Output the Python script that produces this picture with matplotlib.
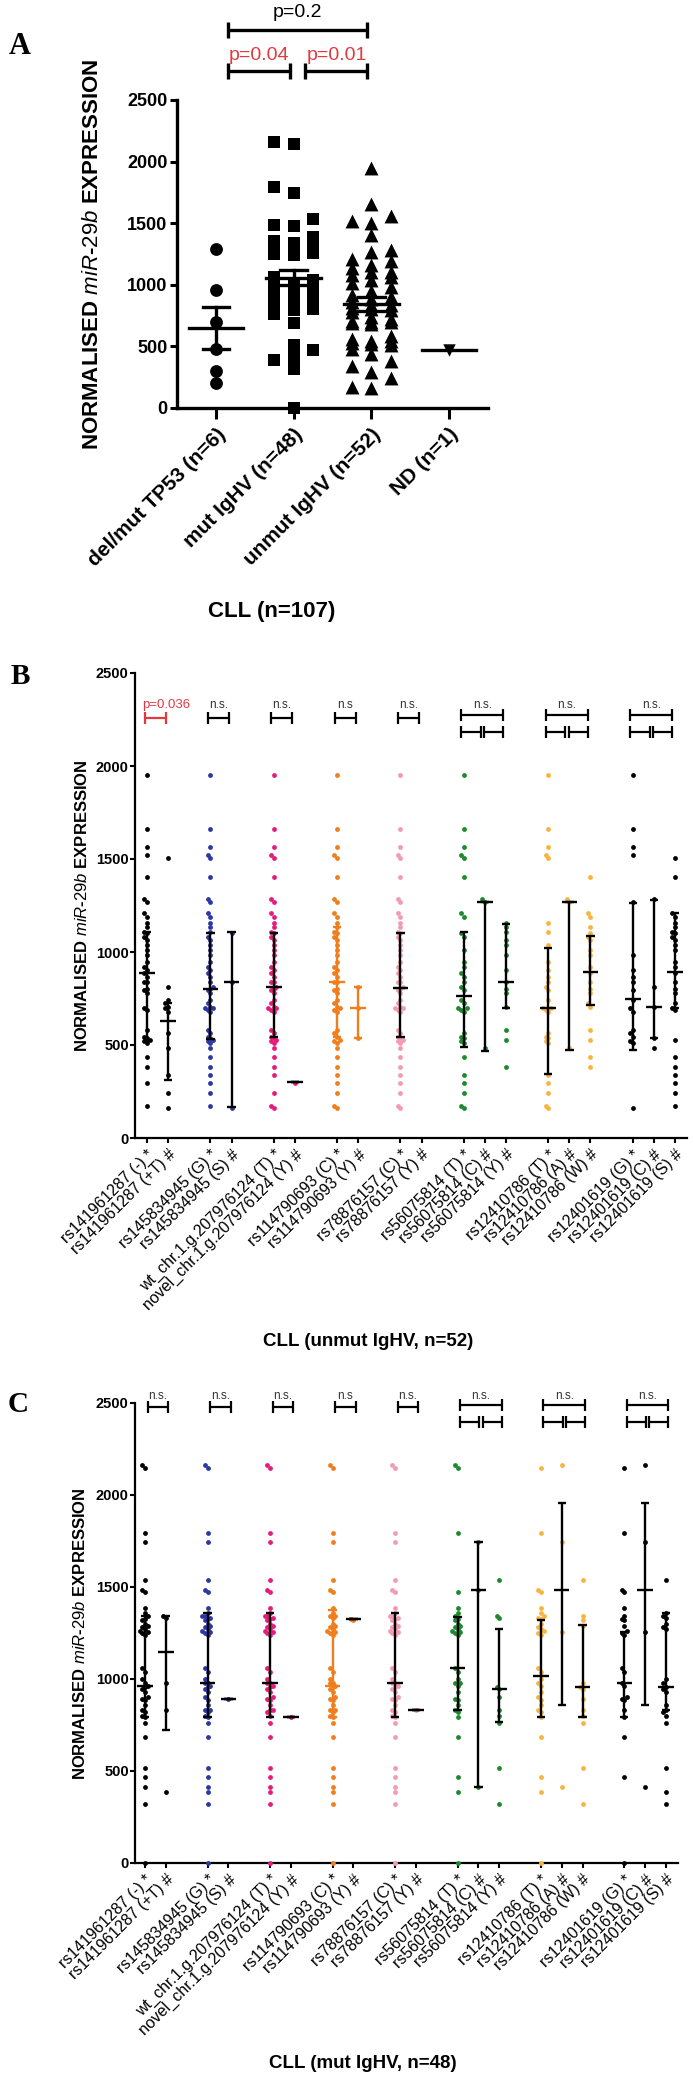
import numpy as np
import matplotlib.pyplot as plt

plt.rcParams['font.family'] = ['Liberation Sans', 'DejaVu Sans']
plt.rcParams['mathtext.fontset'] = 'custom'
plt.rcParams['mathtext.it'] = 'Liberation Sans:italic'
plt.rcParams['mathtext.rm'] = 'Liberation Sans'

# ---------------- panel A data ----------------
a_labels = ['del/mut TP53 (n=6)', 'mut IgHV (n=48)', 'unmut IgHV (n=52)', 'ND (n=1)']
tp53_vals = [1290, 960, 700, 480, 300, 200]
mut_vals = [2163, 2145, 1792, 1746, 1538, 1484, 1475, 1384, 1357, 1343,
            1340, 1330, 1325, 1320, 1300, 1290, 1284, 1270, 1260, 1257,
            1250, 1240, 1060, 1040, 1000, 980, 977, 961, 958, 944,
            930, 900, 890, 886, 860, 832, 830, 820, 800, 795,
            759, 687, 514, 469, 415, 388, 319, 0]
unmut_vals = [1951, 1659, 1562, 1521, 1503, 1405, 1283, 1270, 1208, 1190,
              1158, 1136, 1106, 1100, 1082, 1064, 1037, 1011, 984, 948,
              921, 903, 885, 864, 840, 840, 814, 800, 796, 778,
              742, 724, 706, 700, 697, 690, 679, 581, 563, 545,
              540, 527, 520, 509, 482, 437, 383, 339, 294, 240,
              172, 160]
nd_vals = [470]
a_mean = [650, 1058, 845, 470]
a_sem = [170, 62, 60, 0]
a_pairs = [(0, 1), (1, 2), (0, 2)]
a_ptext = ['p=0.04', 'p=0.01', 'p=0.2']

# ---------------- panels B / C data ----------------
snp_labels = ['rs141961287 (-) *', 'rs141961287 (+T) #',
              'rs145834945 (G) *', 'rs145834945 (S) #',
              'wt_chr.1.g.207976124 (T) *', 'novel_chr.1.g.207976124 (Y) #',
              'rs114790693 (C) *', 'rs114790693 (Y) #',
              'rs78876157 (C) *', 'rs78876157 (Y) #',
              'rs56075814 (T) *', 'rs56075814 (C) #', 'rs56075814 (Y) #',
              'rs12410786 (T) *', 'rs12410786 (A) #', 'rs12410786 (W) #',
              'rs12401619 (G) *', 'rs12401619 (C) #', 'rs12401619 (S) #']
group_sizes = [2, 2, 2, 2, 2, 3, 3, 3]
group_colors = ['black', '#2b37a3', '#e61c7d', '#f07e1c', '#f39bb0',
                '#1b8a2c', '#f9b43f', 'black']

# values of the minority genotype columns (the first column of a SNP = rest of the cohort)
b_minor = [
    [[1503, 814, 742, 724, 706, 697, 679, 563, 482, 339, 240, 160]],
    [[1100, 840, 160]],
    [[294]],
    [[814, 697, 540]],
    [[]],
    [[1283, 1270, 482],
     [1158, 1136, 1106, 1064, 1037, 984, 903, 840, 800, 778, 706, 581, 527, 383]],
    [[1283, 1270, 482],
     [1405, 1208, 1190, 1136, 1100, 1082, 1064, 1011, 984, 921, 885, 840, 800,
      778, 724, 706, 581, 527, 437, 383]],
    [[1283, 814, 706, 540, 482],
     [1503, 1405, 1208, 1190, 1158, 1136, 1106, 1100, 1082, 1064, 1037, 1011,
      948, 921, 885, 840, 800, 778, 724, 700, 690, 527, 437, 383, 339, 294, 240, 172]],
]
b_med = [885, 630, 800, 840, 810, 303, 840, 697, 805, np.nan,
         764, 1270, 840, 697, 1270, 890, 745, 706, 890]
b_q1 = [520, 312, 530, 166, 545, 303, 545, 536, 545, np.nan,
        491, 470, 697, 342, 473, 715, 473, 536, 697]
b_q3 = [1110, 727, 1100, 1105, 1100, 303, 1136, 814, 1100, np.nan,
        1105, 1270, 1148, 1024, 1270, 1086, 1266, 1279, 1208]
b_ptext = ['p=0.036', 'n.s.', 'n.s.', 'n.s', 'n.s.', 'n.s.', 'n.s.', 'n.s.']

c_minor = [
    [[1343, 1330, 977, 830, 388]],
    [[890]],
    [[795]],
    [[1325, 1320]],
    [[830]],
    [[1746, 1484, 415],
     [1538, 1340, 1330, 958, 944, 900, 832, 800, 759, 514, 319]],
    [[2163, 1746, 1257, 415],
     [1538, 1343, 1320, 1290, 980, 958, 944, 890, 830, 800, 759, 514, 319]],
    [[2163, 1746, 1257, 415],
     [1538, 1357, 1340, 1330, 1300, 1284, 1270, 1000, 977, 958, 944, 930, 860,
      832, 820, 800, 759, 514, 388, 319]],
]
c_med = [961, 1149, 977, 890, 977, 791, 961, 1325, 977, 829,
         1058, 1484, 944, 1018, 1484, 958, 980, 1484, 958]
c_q1 = [795, 723, 795, 890, 795, 791, 795, 1325, 795, 829,
        832, 415, 768, 795, 859, 795, 795, 859, 832]
c_q3 = [1343, 1343, 1360, 890, 1360, 791, 1375, 1325, 1360, 829,
        1339, 1746, 1270, 1321, 1955, 1294, 1257, 1955, 1357]
c_ptext = ['n.s.', 'n.s.', 'n.s.', 'n.s', 'n.s.', 'n.s.', 'n.s.', 'n.s.']

W, H = 695, 2079
RED = '#e03a40'


def remove_closest(base, taken):
    rest = list(base)
    for v in taken:
        i = int(np.argmin(np.abs(np.array(rest) - v)))
        rest.pop(i)
    return rest


def swarm(values, step, gap, nmax):
    values = np.asarray(values, dtype=float)
    cands = [0.0]
    for k in range(1, nmax + 1):
        cands += [-k * step, k * step]
    offs = np.zeros(len(values))
    placed = []
    for i in np.argsort(values):
        v = values[i]
        best, bestd = 0.0, -1
        for c in cands:
            d = min([abs(v - pv) for po, pv in placed if po == c], default=np.inf)
            if d >= gap:
                best = c
                break
            if d > bestd:
                best, bestd = c, d
        offs[i] = best
        placed.append((best, v))
    return offs


def bracket(ax, x0, x1, y, t, color, lw):
    kw = dict(color=color, lw=lw, clip_on=False, solid_capstyle='butt')
    ax.plot([x0, x1], [y, y], **kw)
    ax.plot([x0, x0], [y - t, y + t], **kw)
    ax.plot([x1, x1], [y - t, y + t], **kw)


def box(l, t, r, b):
    return [l / W, 1 - b / H, (r - l) / W, (b - t) / H]


fig = plt.figure(figsize=(W / 100, H / 100), dpi=100)

# ================= panel A =================
axA = fig.add_axes(box(177, 100, 488, 408))
a_vals = [tp53_vals, mut_vals, unmut_vals, nd_vals]
a_markers = ['o', 's', '^', 'v']
a_sizes = [85, 80, 100, 80]
for i, vals in enumerate(a_vals):
    off = swarm(vals, 0.25, 95, 1)
    axA.scatter(i + off, vals, marker=a_markers[i], s=a_sizes[i], color='black',
                linewidths=0, zorder=3, clip_on=False)
    axA.plot([i - 0.35, i + 0.35], [a_mean[i]] * 2, color='black', lw=2.4, zorder=4)
    if a_sem[i] > 0:
        lo, hi = a_mean[i] - a_sem[i], a_mean[i] + a_sem[i]
        axA.plot([i, i], [lo, hi], color='black', lw=2.4, zorder=4)
        axA.plot([i - 0.17, i + 0.17], [lo, lo], color='black', lw=2.4, zorder=4)
        axA.plot([i - 0.17, i + 0.17], [hi, hi], color='black', lw=2.4, zorder=4)

axA.set_xlim(-0.5, 3.5)
axA.set_ylim(0, 2500)
axA.set_yticks([0, 500, 1000, 1500, 2000, 2500])
axA.set_xticks(range(4))
axA.set_xticklabels(a_labels, rotation=45, ha='right', rotation_mode='anchor',
                    fontsize=15, fontweight='bold')
for lab in axA.get_yticklabels():
    lab.set_fontweight('bold')
axA.tick_params(axis='y', labelsize=13, length=5, width=2.2, pad=2)
axA.tick_params(axis='x', length=8, width=2.2, pad=4)
for s in ['top', 'right']:
    axA.spines[s].set_visible(False)
for s in ['left', 'bottom']:
    axA.spines[s].set_linewidth(2.4)

for k, (i, j) in enumerate(a_pairs):
    top = (j - i) > 1
    y = 3068 if top else 2735
    bracket(axA, i + 0.15, j - 0.05, y, 65, 'black', 2.4)
    axA.text((i + j + 0.1) / 2, y + (140 if top else 130), a_ptext[k],
             color='black' if top else RED, fontsize=14, ha='center', va='center')

fig.text(20 / W, 1 - 47 / H, 'A', family='Liberation Serif', fontweight='bold',
         fontsize=22, ha='center', va='center')
fig.text(93 / W, 1 - 254 / H, r'NORMALISED $\it{miR}$-$\it{29b}$ EXPRESSION',
         rotation=90, fontsize=16, fontweight='bold', ha='center', va='center')
fig.text(272 / W, 1 - 612 / H, 'CLL (n=107)', fontsize=16, fontweight='bold',
         ha='center', va='center')


# ================= panels B and C =================
def snp_panel(ax, base, minor, med, q1, q3, ptext, pcol0, off, lev, bar_orange):
    p = 0
    slots = []
    for g in group_sizes:
        slots.append(list(range(p, p + g)))
        p += g + 1
    flat = [s for grp in slots for s in grp]
    col_idx = 0
    for g, grp in enumerate(slots):
        taken = [v for m in minor[g] for v in m]
        cols = [remove_closest(base, taken)] + minor[g]
        for k, x in enumerate(grp):
            vals = cols[k]
            if len(vals):
                o = swarm(vals, 0.13, 22, 2)
                ax.scatter(x + o, vals, s=12, color=group_colors[g], linewidths=0,
                           zorder=3, clip_on=False)
            if not np.isnan(med[col_idx]):
                bc = group_colors[g] if col_idx in bar_orange else 'black'
                kw = dict(color=bc, lw=1.7, zorder=4, solid_capstyle='butt')
                ax.plot([x, x], [q1[col_idx], q3[col_idx]], **kw)
                ax.plot([x - 0.2, x + 0.2], [q1[col_idx]] * 2, **kw)
                ax.plot([x - 0.2, x + 0.2], [q3[col_idx]] * 2, **kw)
                ax.plot([x - 0.37, x + 0.37], [med[col_idx]] * 2, **kw)
            col_idx += 1
        # significance brackets
        color = pcol0 if g == 0 else 'black'
        lo, hi = grp[0] + off, grp[-1] + off
        if len(grp) == 2:
            bracket(ax, lo, hi, lev[0], 33, color, 1.6)
        else:
            bracket(ax, lo, hi, lev[1], 33, color, 1.6)
            bracket(ax, lo, grp[1] + off - 0.08, lev[2], 33, color, 1.6)
            bracket(ax, grp[1] + off + 0.08, hi, lev[2], 33, color, 1.6)
        if ptext[g].startswith('p'):
            ax.text(lo - 0.12, lev[3], ptext[g], color=RED, fontsize=9.5,
                    ha='left', va='center', clip_on=False)
        else:
            ax.text((lo + hi) / 2, lev[3], ptext[g], color='#333333', fontsize=8.5,
                    ha='center', va='center', clip_on=False)

    ax.set_ylim(0, 2500)
    ax.set_yticks([0, 500, 1000, 1500, 2000, 2500])
    ax.set_xticks(flat)
    ax.set_xticklabels(snp_labels, rotation=45, ha='right', rotation_mode='anchor',
                       fontsize=11.5)
    for lab in ax.get_yticklabels():
        lab.set_fontweight('bold')
    ax.tick_params(axis='y', labelsize=10.5, length=3.5, width=1.5, pad=1)
    ax.tick_params(axis='x', length=3.5, width=1.5, pad=3)
    for s in ['top', 'right']:
        ax.spines[s].set_visible(False)
    for s in ['left', 'bottom']:
        ax.spines[s].set_linewidth(1.6)


axB = fig.add_axes(box(135, 673, 687, 1138))
snp_panel(axB, unmut_vals, b_minor, b_med, b_q1, b_q3, b_ptext, RED, -0.12,
          (2258, 2274, 2183, 2330), (6, 7))
axB.set_xlim(-0.57, 25.57)

axC = fig.add_axes(box(135, 1403, 678, 1863))
snp_panel(axC, mut_vals, c_minor, c_med, c_q1, c_q3, c_ptext, 'black', 0.12,
          (2478, 2489, 2397, 2540), (6,))
axC.set_xlim(-0.48, 25.58)

ylab = r'NORMALISED $\it{miR}$-$\it{29b}$ EXPRESSION'
fig.text(20 / W, 1 - 677 / H, 'B', family='Liberation Serif', fontweight='bold',
         fontsize=21, ha='center', va='center')
fig.text(82 / W, 1 - 906 / H, ylab, rotation=90, fontsize=12, fontweight='bold',
         ha='center', va='center')
fig.text(368 / W, 1 - 1342 / H, 'CLL (unmut IgHV, n=52)', fontsize=13.5,
         fontweight='bold', ha='center', va='center')

fig.text(18 / W, 1 - 1405 / H, 'C', family='Liberation Serif', fontweight='bold',
         fontsize=21, ha='center', va='center')
fig.text(80 / W, 1 - 1634 / H, ylab, rotation=90, fontsize=12, fontweight='bold',
         ha='center', va='center')
fig.text(363 / W, 1 - 2063 / H, 'CLL (mut IgHV, n=48)', fontsize=13.5,
         fontweight='bold', ha='center', va='center')

fig.savefig('out.png', dpi=100)
